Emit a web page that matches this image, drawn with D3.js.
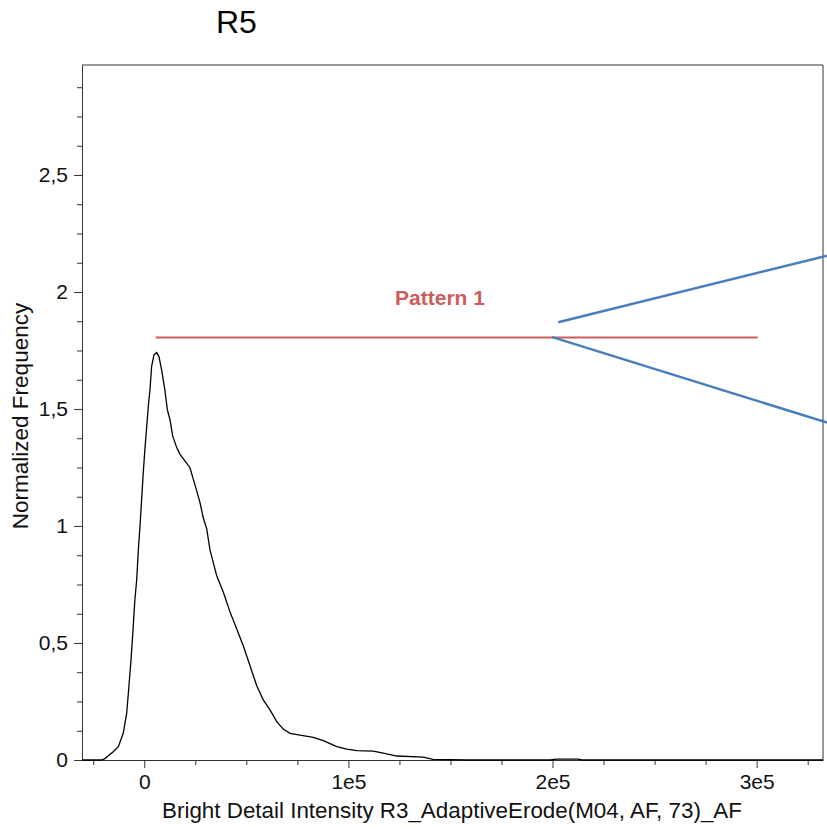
<!DOCTYPE html>
<html>
<head>
  <meta charset="utf-8">
  <title>R5</title>
  <script src="https://d3js.org/d3.v7.min.js"></script>
  <style>
    body { margin: 0; background: #fff; }
    text { font-family: "Liberation Sans", Arial, sans-serif; }
  </style>
</head>
<body>
<svg width="827" height="829"></svg>
<script>
// --- data ---
const intensity = [-30500, -21000, -19300, -15200, -12700, -10300, -8600, -7800, -6500, -5400,
  -4600, -3700, -2900, -2100, -1300, -500, 300, 2000, 2800, 3600, 4800, 6100, 7200, 8500,
  10100, 11300, 12600, 13900, 15900, 17500, 19900, 22400, 24000, 25700, 27300, 28900, 30600,
  32200, 35500, 38700, 42000, 45300, 48500, 51800, 55100, 58300, 61600, 64900, 68100, 71400,
  76300, 82800, 87700, 94300, 99200, 104100, 112200, 117100, 123700, 136700, 141400, 158600,
  199000, 202000, 212500, 214500, 332500];
const frequency = [0, 0, 0.006, 0.035, 0.057, 0.114, 0.2, 0.285, 0.427, 0.57,
  0.684, 0.77, 0.898, 0.998, 1.111, 1.227, 1.326, 1.514, 1.582, 1.682, 1.732, 1.741, 1.724, 1.667,
  1.582, 1.497, 1.454, 1.385, 1.335, 1.306, 1.278, 1.249, 1.2, 1.15, 1.1, 1.035, 0.988,
  0.898, 0.787, 0.718, 0.633, 0.56, 0.488, 0.403, 0.317, 0.257, 0.214, 0.164, 0.132, 0.114,
  0.106, 0.097, 0.083, 0.057, 0.046, 0.04, 0.038, 0.029, 0.017, 0.012, 0.003, 0,
  0, 0.004, 0.004, 0, 0];

const xTicks = [0, 100000, 200000, 300000];
const xTickLabels = ["0", "1e5", "2e5", "3e5"];
const yTicks = [0, 0.5, 1, 1.5, 2, 2.5];
const yTickLabels = ["0", "0,5", "1", "1,5", "2", "2,5"];

// gate "Pattern 1" and the two callout lines
const gateX = [5600, 300500];
const gateY = 1.805;
const calloutUpper = [[202800, 1.871], [334500, 2.155]];
const calloutLower = [[199900, 1.807], [334500, 1.442]];

// --- layout ---
const svg = d3.select("svg");
const mLeft = 82, mRight = 823, mTop = 65, mBottom = 760;

const x = d3.scaleLinear().domain([-30500, 332500]).range([mLeft, mRight]);
const y = d3.scaleLinear().domain([0, 2.97]).range([mBottom, mTop]);

const axisColor = "#333";

// minor ticks
const xMinor = d3.range(-25000, 332500, 25000).filter(v => v % 100000 !== 0);
const yMinor = d3.range(0, 2.97, 0.125).filter(v => Math.abs(v * 2 - Math.round(v * 2)) > 1e-6);

const gx = svg.append("g").attr("transform", `translate(0,${mBottom})`);
gx.call(d3.axisBottom(x).tickValues(xTicks).tickFormat((d, i) => xTickLabels[i])
  .tickSize(8).tickSizeOuter(0).tickPadding(6));
gx.append("g").call(d3.axisBottom(x).tickValues(xMinor).tickFormat("").tickSize(5).tickSizeOuter(0))
  .select(".domain").remove();

const gy = svg.append("g").attr("transform", `translate(${mLeft},0)`);
gy.call(d3.axisLeft(y).tickValues(yTicks).tickFormat((d, i) => yTickLabels[i])
  .tickSize(8).tickSizeOuter(0).tickPadding(6));
gy.append("g").call(d3.axisLeft(y).tickValues(yMinor).tickFormat("").tickSize(5).tickSizeOuter(0))
  .select(".domain").remove();

svg.selectAll(".domain, .tick line").attr("stroke", axisColor);
svg.selectAll(".tick text").attr("font-size", 21).attr("fill", "#111")
  .attr("font-family", "'Liberation Sans', Arial, sans-serif");

// top and right frame lines
svg.append("line").attr("x1", mLeft).attr("x2", mRight).attr("y1", mTop).attr("y2", mTop).attr("stroke", axisColor);
svg.append("line").attr("x1", mRight).attr("x2", mRight).attr("y1", mTop).attr("y2", mBottom).attr("stroke", axisColor);

// histogram curve
const line = d3.line().x((d, i) => x(intensity[i])).y((d, i) => y(frequency[i]));
svg.append("path").datum(frequency).attr("d", line)
  .attr("fill", "none").attr("stroke", "#000").attr("stroke-width", 1.3);

// gate
svg.append("line").attr("x1", x(gateX[0])).attr("x2", x(gateX[1]))
  .attr("y1", y(gateY)).attr("y2", y(gateY))
  .attr("stroke", "#cd5c5c").attr("stroke-width", 2);
svg.append("text").attr("x", 440).attr("y", 305)
  .attr("text-anchor", "middle").attr("font-size", 21).attr("font-weight", "bold")
  .attr("fill", "#cd5c5c").text("Pattern 1");

// callout lines
[calloutUpper, calloutLower].forEach(seg => {
  svg.append("line").attr("x1", x(seg[0][0])).attr("y1", y(seg[0][1]))
    .attr("x2", x(seg[1][0])).attr("y2", y(seg[1][1]))
    .attr("stroke", "#4a7ebb").attr("stroke-width", 2.5);
});

// titles
svg.append("text").attr("x", 216).attr("y", 33).attr("font-size", 32).attr("fill", "#000").text("R5");
svg.append("text").attr("x", 452).attr("y", 818).attr("text-anchor", "middle")
  .attr("font-size", 22.4).attr("fill", "#111").text("Bright Detail Intensity R3_AdaptiveErode(M04, AF, 73)_AF");
svg.append("text").attr("transform", "translate(28,416) rotate(-90)").attr("text-anchor", "middle")
  .attr("font-size", 22.5).attr("fill", "#111").text("Normalized Frequency");
</script>
</body>
</html>
